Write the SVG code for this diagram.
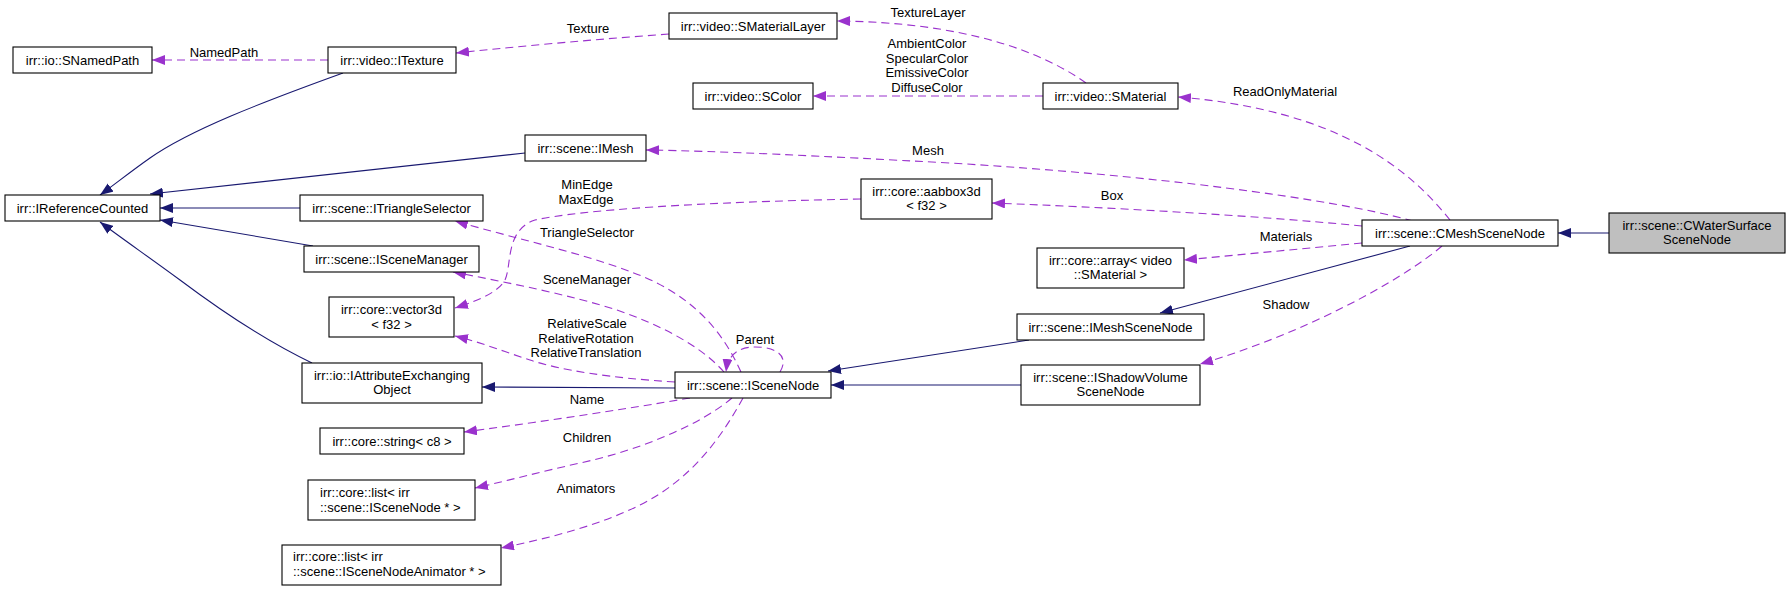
<svg xmlns="http://www.w3.org/2000/svg" width="1789" height="591" viewBox="0 0 1789 591">
<defs>
<style>
.node rect{fill:#ffffff;stroke:#000000;stroke-width:1.1}
.node.main rect{fill:#bfbfbf}
text{font-family:"Liberation Sans",Arial,Helvetica,sans-serif;font-size:13px;fill:#000000}
.node text{text-anchor:middle}
.node text.l{text-anchor:start}
.lbl{text-anchor:middle}
.inh{fill:none;stroke:#191970;stroke-width:1.1;marker-end:url(#ah-navy)}
.use{fill:none;stroke:#9a32cd;stroke-width:1.1;stroke-dasharray:8,5;marker-end:url(#ah-purple)}
</style>
<marker id="ah-navy" markerUnits="userSpaceOnUse" markerWidth="13" markerHeight="10" viewBox="0 0 13 10" refX="13" refY="5" orient="auto">
<path d="M0,0 L13,5 L0,10 z" fill="#191970"/>
</marker>
<marker id="ah-purple" markerUnits="userSpaceOnUse" markerWidth="13" markerHeight="10" viewBox="0 0 13 10" refX="13" refY="5" orient="auto">
<path d="M0,0 L13,5 L0,10 z" fill="#9a32cd"/>
</marker>
</defs>
<rect x="0" y="0" width="1789" height="591" fill="#ffffff"/>

<g id="edges">
<path class="inh" d="M343,73 C260,103 190,130 150,158 C130,172 114,185 100,195"/>
<path class="inh" d="M525,153 L150,194"/>
<path class="inh" d="M300,208 L160,208"/>
<path class="inh" d="M313,246 L160,220"/>
<path class="inh" d="M312,363 C270,343 220,310 180,280 C150,258 120,237 100,222"/>
<path class="inh" d="M675,388 C600,388 540,387 482,387"/>
<path class="inh" d="M1029,340 L828,371"/>
<path class="inh" d="M1021,385 L831,385"/>
<path class="inh" d="M1410,246 L1160,313"/>
<path class="inh" d="M1609,233 L1558,233"/>

<path class="use" d="M328,60 L152,60"/>
<path class="use" d="M669,34 Q560,42 456,53"/>
<path class="use" d="M1086,83 C1040,50 960,22 837,21"/>
<path class="use" d="M1043,96 L813,96"/>
<path class="use" d="M1450,220 C1410,170 1340,110 1178,97"/>
<path class="use" d="M1413,221 C1330,198 1150,175 950,163 C820,156 720,151 646,150"/>
<path class="use" d="M1362,226 C1250,215 1100,207 992,203"/>
<path class="use" d="M1362,243 L1184,260"/>
<path class="use" d="M1442,246 C1400,282 1300,335 1200,364"/>
<path class="use" d="M861,199 C700,202 580,210 535,220 C505,230 512,265 505,280 C498,292 480,300 455,308"/>
<path class="use" d="M741,372 C722,330 695,302 655,282 C605,258 520,240 455,221"/>
<path class="use" d="M724,372 C700,345 660,325 617,310 C570,295 510,283 453,272"/>
<path class="use" d="M675,382 C610,378 560,370 530,360 C505,352 480,342 455,336"/>
<path class="use" d="M690,398 C620,410 540,422 464,432"/>
<path class="use" d="M732,398 C700,425 640,450 580,463 C540,472 510,480 475,488"/>
<path class="use" d="M743,398 C720,440 690,480 640,505 C600,525 550,538 501,548"/>
<path class="use" d="M780,372 C790,355 775,347 755,347 C738,347 728,355 726,372"/>

<text class="lbl" x="224" y="56.5">NamedPath</text>
<text class="lbl" x="588" y="32.5">Texture</text>
<text class="lbl" x="928" y="16.5">TextureLayer</text>
<text class="lbl" x="927" y="47.5">AmbientColor</text>
<text class="lbl" x="927" y="62.5">SpecularColor</text>
<text class="lbl" x="927" y="76.5">EmissiveColor</text>
<text class="lbl" x="927" y="91.5">DiffuseColor</text>
<text class="lbl" x="1285" y="95.5">ReadOnlyMaterial</text>
<text class="lbl" x="928" y="154.5">Mesh</text>
<text class="lbl" x="587" y="188.5">MinEdge</text>
<text class="lbl" x="586" y="203.5">MaxEdge</text>
<text class="lbl" x="1112" y="200">Box</text>
<text class="lbl" x="587" y="236.5">TriangleSelector</text>
<text class="lbl" x="1286" y="240.5">Materials</text>
<text class="lbl" x="587" y="283.5">SceneManager</text>
<text class="lbl" x="1286" y="308.5">Shadow</text>
<text class="lbl" x="587" y="327.5">RelativeScale</text>
<text class="lbl" x="586" y="342.5">RelativeRotation</text>
<text class="lbl" x="586" y="356.5">RelativeTranslation</text>
<text class="lbl" x="755" y="343.5">Parent</text>
<text class="lbl" x="587" y="403.5">Name</text>
<text class="lbl" x="587" y="441.5">Children</text>
<text class="lbl" x="586" y="492.5">Animators</text>
</g>

<g id="n-snamedpath" class="node"><rect x="13" y="47" width="139" height="26"/><text x="82.5" y="64.5">irr::io::SNamedPath</text></g>
<g id="n-itexture" class="node"><rect x="328" y="47" width="128" height="26"/><text x="392" y="64.5">irr::video::ITexture</text></g>
<g id="n-ireferencecounted" class="node"><rect x="5" y="195" width="155" height="26"/><text x="82.5" y="212.5">irr::IReferenceCounted</text></g>
<g id="n-imesh" class="node"><rect x="525" y="135" width="121" height="26"/><text x="585.5" y="152.5">irr::scene::IMesh</text></g>
<g id="n-itriangleselector" class="node"><rect x="300" y="195" width="183" height="26"/><text x="391.5" y="212.5">irr::scene::ITriangleSelector</text></g>
<g id="n-iscenemanager" class="node"><rect x="304" y="246" width="175" height="26"/><text x="391.5" y="263.5">irr::scene::ISceneManager</text></g>
<g id="n-vector3d" class="node"><rect x="329" y="297" width="125" height="40"/><text x="391.5" y="313.5">irr::core::vector3d</text><text x="391.5" y="328.5">&lt; f32 &gt;</text></g>
<g id="n-iattributeexchangingobject" class="node"><rect x="302" y="363" width="180" height="40"/><text x="392" y="379.5">irr::io::IAttributeExchanging</text><text x="392" y="394">Object</text></g>
<g id="n-string" class="node"><rect x="320" y="428" width="144" height="26"/><text x="392" y="445.5">irr::core::string&lt; c8 &gt;</text></g>
<g id="n-list-scenenode" class="node"><rect x="308" y="480" width="167" height="40"/><text class="l" x="320" y="496.5">irr::core::list&lt; irr</text><text class="l" x="320" y="511.5">::scene::ISceneNode * &gt;</text></g>
<g id="n-list-animator" class="node"><rect x="282" y="545" width="219" height="40"/><text class="l" x="293" y="561">irr::core::list&lt; irr</text><text class="l" x="293" y="576">::scene::ISceneNodeAnimator * &gt;</text></g>
<g id="n-smateriallayer" class="node"><rect x="669" y="13" width="168" height="26"/><text x="753" y="30.5">irr::video::SMaterialLayer</text></g>
<g id="n-scolor" class="node"><rect x="693" y="83" width="120" height="26"/><text x="753" y="100.5">irr::video::SColor</text></g>
<g id="n-smaterial" class="node"><rect x="1043" y="83" width="135" height="26"/><text x="1110.5" y="100.5">irr::video::SMaterial</text></g>
<g id="n-aabbox3d" class="node"><rect x="861" y="179" width="131" height="40"/><text x="926.5" y="195.5">irr::core::aabbox3d</text><text x="926.5" y="210">&lt; f32 &gt;</text></g>
<g id="n-array" class="node"><rect x="1037" y="248" width="147" height="40"/><text x="1110.5" y="264.5">irr::core::array&lt; video</text><text x="1110.5" y="279">::SMaterial &gt;</text></g>
<g id="n-iscenenode" class="node"><rect x="675" y="372" width="156" height="26"/><text x="753" y="389.5">irr::scene::ISceneNode</text></g>
<g id="n-imeshscenenode" class="node"><rect x="1017" y="314" width="187" height="26"/><text x="1110.5" y="331.5">irr::scene::IMeshSceneNode</text></g>
<g id="n-ishadowvolumescenenode" class="node"><rect x="1021" y="365" width="179" height="40"/><text x="1110.5" y="381.5">irr::scene::IShadowVolume</text><text x="1110.5" y="396">SceneNode</text></g>
<g id="n-cmeshscenenode" class="node"><rect x="1362" y="220" width="196" height="26"/><text x="1460" y="237.5">irr::scene::CMeshSceneNode</text></g>
<g id="n-cwatersurfacescenenode" class="node main"><rect x="1609" y="213" width="176" height="40"/><text x="1697" y="229.5">irr::scene::CWaterSurface</text><text x="1697" y="244">SceneNode</text></g>
</svg>
